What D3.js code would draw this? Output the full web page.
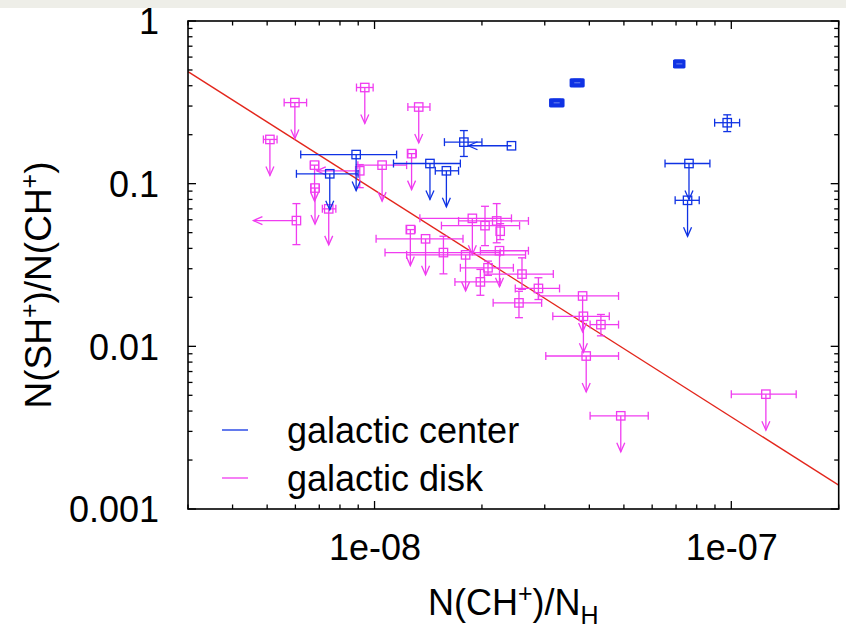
<!DOCTYPE html>
<html><head><meta charset="utf-8">
<script src="https://cdn.jsdelivr.net/npm/d3@7"></script>
<style>body{margin:0;background:#fff} text{font-family:"Liberation Sans",Arial,sans-serif;fill:#000}</style>
</head><body><svg id="c" width="846" height="629"></svg>
<script>
// ---------- data ----------
const xTickValues = [1e-8, 1e-7];
const xTickLabels = ["1e-08", "1e-07"];
const yTickValues = [1, 0.1, 0.01, 0.001];
const yTickLabels = ["1", "0.1", "0.01", "0.001"];
const seriesNames = ["galactic center", "galactic disk"];

// galactic center
const gcX    = [8.88e-9, 1.43e-8, 1.59e-8, 7.49e-9, 1.78e-8, 2.42e-8, 7.15e-8, 3.70e-8, 3.24e-8, 9.74e-8, 7.61e-8, 7.54e-8];
const gcXlo  = [6.21e-9, 1.13e-8, 1.48e-8, 6.04e-9, 1.57e-8, null,    6.90e-8, 3.54e-8, 3.10e-8, 8.98e-8, 6.52e-8, 6.96e-8];
const gcXhi  = [1.153e-8,1.74e-8, 1.72e-8, 8.99e-9, 2.00e-8, null,    7.40e-8, 3.86e-8, 3.39e-8, 1.055e-7,8.71e-8, 8.13e-8];
const gcY    = [0.151, 0.133, 0.120, 0.115, 0.180, 0.171, 0.545, 0.417, 0.314, 0.237, 0.133, 0.079];
const gcYlo  = [null,  null,  null,  null,  0.147, null,  0.522, 0.396, 0.299, 0.209, null,  null];
const gcYhi  = [null,  null,  null,  null,  0.212, null,  0.568, 0.438, 0.330, 0.265, null,  null];
const gcLim  = ["d",   "d",   "d",   "d",   "",    "l",   "",    "",    "",    "",    "d",   "d"];

// galactic disk
const gdX    = [9.39e-9, 5.98e-9, 1.33e-8, 5.09e-9, 1.27e-8, 6.79e-9, 1.05e-8, 6.81e-9, 7.44e-9, 6.04e-9, 9.09e-9,
                1.88e-8, 2.04e-8, 2.20e-8, 2.25e-8, 1.26e-8, 1.39e-8, 1.56e-8, 1.80e-8, 2.24e-8, 2.08e-8, 1.98e-8,
                2.59e-8, 2.88e-8, 2.54e-8, 3.83e-8, 3.85e-8, 4.31e-8, 3.92e-8, 4.90e-8, 1.25e-7];
const gdXlo  = [8.90e-9, 5.58e-9, 1.24e-8, 4.88e-9, 1.24e-8, 6.61e-9, 8.98e-9, 6.63e-9, 7.14e-9, null, null,
                1.34e-8, 1.54e-8, 1.72e-8, null,    1.23e-8, 1.01e-8, 1.07e-8, 1.23e-8, 1.98e-8, 1.74e-8, 1.68e-8,
                2.03e-8, 2.48e-8, 2.15e-8, 2.88e-8, 3.16e-8, 4.02e-8, 3.02e-8, 4.02e-8, 1.00e-7];
const gdXhi  = [9.91e-9, 6.45e-9, 1.43e-8, 5.33e-9, 1.31e-8, 6.97e-9, 1.23e-8, 7.00e-9, 7.79e-9, null, null,
                2.42e-8, 2.55e-8, 2.70e-8, null,    1.30e-8, 1.77e-8, 2.25e-8, 2.65e-8, 2.70e-8, 2.45e-8, 2.25e-8,
                3.17e-8, 3.30e-8, 2.94e-8, 4.83e-8, 4.55e-8, 4.83e-8, 4.83e-8, 5.85e-8, 1.52e-7];
const gdY    = [0.390, 0.315, 0.296, 0.187, 0.153, 0.130, 0.130, 0.094, 0.070, 0.0593, 0.120,
                0.0612, 0.0552, 0.0590, 0.0510, 0.0522, 0.0458, 0.0377, 0.0365, 0.0387, 0.0304, 0.0249,
                0.0278, 0.0227, 0.0185, 0.0204, 0.0153, 0.0136, 0.00872, 0.00374, 0.00508];
const gdYlo  = [null, null, null, null, null, null, null, null, null, 0.0422, 0.0945,
                null, 0.0416, 0.0433, 0.0453, null, null, 0.0279, null, null, 0.0273, 0.0206,
                0.0224, 0.0194, 0.0150, null, null, 0.0116, null, null, null];
const gdYhi  = [null, null, null, null, null, null, null, null, null, 0.0754, 0.131,
                null, 0.0726, 0.0754, 0.0568, null, null, 0.0475, null, null, 0.0334, 0.0297,
                0.0350, 0.0264, 0.0218, null, null, 0.0157, null, null, null];
const gdLim  = ["d", "d", "d", "d", "d", "d", "d", "d", "d", "l", "l",
                "d", "", "", "", "d", "d", "", "d", "d", "", "",
                "", "", "", "d", "d", "", "d", "d", "d"];

// power-law fit  y = fitAmp * (x / fitRef)^fitSlope
const fitAmp = 0.0912, fitRef = 1e-8, fitSlope = -1.394;

// ---------- drawing ----------
(function () {
const W = 846, H = 629;
const pL = 188, pR = 838.7, pT = 21, pB = 509;
const blue = "#0f32e4", magenta = "#f03cf0", red = "#e3261c";
const font = '"Liberation Sans",Arial,sans-serif';
const svg = d3.select("#c");

svg.append("rect").attr("width", W).attr("height", H).attr("fill", "#fff");
svg.append("rect").attr("width", W).attr("height", 8).attr("fill", "#eeeee8");

const x = d3.scaleLog().domain([3e-9, 2e-7]).range([pL, pR]);
const y = d3.scaleLog().domain([0.001, 1]).range([pB, pT]);

const g = svg.append("g");

function minorTicks(scale) {
  const [a, b] = scale.domain();
  const out = [];
  for (let e = Math.floor(Math.log10(a)); e <= Math.ceil(Math.log10(b)); e++)
    for (let m = 1; m < 10; m++) {
      const v = m * Math.pow(10, e);
      if (v >= a * 0.999 && v <= b * 1.001) out.push({v, major: m === 1});
    }
  return out;
}
const tk = g.append("g").attr("stroke", "#000").attr("stroke-width", 1.3);
minorTicks(x).forEach(t => {
  const L = t.major ? 8 : 4.5, px = x(t.v);
  tk.append("line").attr("x1", px).attr("x2", px).attr("y1", pB).attr("y2", pB - L);
  tk.append("line").attr("x1", px).attr("x2", px).attr("y1", pT).attr("y2", pT + L);
});
minorTicks(y).forEach(t => {
  const L = t.major ? 8 : 4.5, py = y(t.v);
  tk.append("line").attr("y1", py).attr("y2", py).attr("x1", pL).attr("x2", pL + L);
  tk.append("line").attr("y1", py).attr("y2", py).attr("x1", pR).attr("x2", pR - L);
});

const xAxis = d3.axisBottom(x).tickValues(xTickValues).tickFormat((d, i) => xTickLabels[i]).tickSize(0).tickPadding(0);
const yAxis = d3.axisLeft(y).tickValues(yTickValues).tickFormat((d, i) => yTickLabels[i]).tickSize(0).tickPadding(0);
const ax = g.append("g").attr("transform", `translate(0,${pB})`).call(xAxis);
ax.select(".domain").remove();
ax.selectAll("text").attr("y", 51).attr("dy", 0).style("font-size", "36px").style("font-family", font).attr("fill", "#000");
const ay = g.append("g").attr("transform", `translate(${pL},0)`).call(yAxis);
ay.select(".domain").remove();
ay.selectAll("text").attr("x", -29).attr("dy", "0.36em").style("font-size", "36px").style("font-family", font).attr("fill", "#000");

svg.append("clipPath").attr("id", "pc").append("rect")
  .attr("x", pL).attr("y", pT).attr("width", pR - pL).attr("height", pB - pT);
const fx = x.domain();
g.append("path").attr("clip-path", "url(#pc)")
  .attr("d", d3.line()(fx.map(v => [x(v), y(fitAmp * Math.pow(v / fitRef, fitSlope))])))
  .attr("stroke", red).attr("stroke-width", 1.4).attr("fill", "none");

function drawSeries(X, Xlo, Xhi, Y, Ylo, Yhi, Lim, color) {
  const s = g.append("g").attr("stroke", color).attr("stroke-width", 1.3).attr("fill", "none");
  const cap = 4, sq = 4.2, arrV = 36, arrH = 43, ah = 9, aw = 4;
  X.forEach((xv, i) => {
    const px = x(xv), py = y(Y[i]);
    let small = false;
    if (Xlo[i] != null) {
      const a = x(Xlo[i]), b = x(Xhi[i]);
      s.append("line").attr("x1", a).attr("x2", b).attr("y1", py).attr("y2", py);
      s.append("line").attr("x1", a).attr("x2", a).attr("y1", py - cap).attr("y2", py + cap);
      s.append("line").attr("x1", b).attr("x2", b).attr("y1", py - cap).attr("y2", py + cap);
    }
    if (Ylo[i] != null) {
      const a = y(Ylo[i]), b = y(Yhi[i]);
      s.append("line").attr("x1", px).attr("x2", px).attr("y1", a).attr("y2", b);
      s.append("line").attr("y1", a).attr("y2", a).attr("x1", px - cap).attr("x2", px + cap);
      s.append("line").attr("y1", b).attr("y2", b).attr("x1", px - cap).attr("x2", px + cap);
      // very tight error boxes render as a solid blob in the original
      if (Xlo[i] != null && Math.abs(a - b) < 9 && Math.abs(x(Xhi[i]) - x(Xlo[i])) < 14) small = true;
    }
    if (Lim[i] === "d") {
      const e = py + arrV;
      s.append("line").attr("x1", px).attr("x2", px).attr("y1", py).attr("y2", e);
      s.append("path").attr("d", `M${px - aw},${e - ah}L${px},${e}L${px + aw},${e - ah}`);
    } else if (Lim[i] === "l") {
      const e = px - arrH;
      s.append("line").attr("x1", px).attr("x2", e).attr("y1", py).attr("y2", py);
      s.append("path").attr("d", `M${e + ah},${py - aw}L${e},${py}L${e + ah},${py + aw}`);
    }
    if (small) {
      const a = x(Xlo[i]), b = x(Xhi[i]), c = y(Yhi[i]), d = y(Ylo[i]);
      s.append("rect").attr("x", a - 0.6).attr("y", Math.min(c, py - cap) - 0.6)
        .attr("width", b - a + 1.2).attr("height", Math.max(d, py + cap) - Math.min(c, py - cap) + 1.2)
        .attr("fill", color).attr("stroke", "none").attr("rx", 1.5);
      s.append("line").attr("x1", px - 3).attr("x2", px + 3).attr("y1", py).attr("y2", py)
        .attr("stroke", "#6f86ee").attr("stroke-width", 1);
    } else {
      s.append("rect").attr("x", px - sq).attr("y", py - sq).attr("width", 2 * sq).attr("height", 2 * sq);
    }
  });
}
drawSeries(gdX, gdXlo, gdXhi, gdY, gdYlo, gdYhi, gdLim, magenta);
drawSeries(gcX, gcXlo, gcXhi, gcY, gcYlo, gcYhi, gcLim, blue);

g.append("rect").attr("x", pL).attr("y", pT).attr("width", pR - pL).attr("height", pB - pT)
  .attr("fill", "none").attr("stroke", "#000").attr("stroke-width", 1.6);

const legColors = [blue, magenta];
seriesNames.forEach((n, i) => {
  const ly = 430 + i * 48;
  g.append("line").attr("x1", 222).attr("x2", 248).attr("y1", ly).attr("y2", ly)
    .attr("stroke", legColors[i]).attr("stroke-width", 1.3);
  g.append("text").attr("x", 287).attr("y", ly).attr("dy", "0.36em").style("font-size", "36px").text(n);
});

const xt = svg.append("text").attr("x", (pL + pR) / 2).attr("y", 615).attr("text-anchor", "middle").style("font-size", "36px");
xt.append("tspan").text("N(CH");
xt.append("tspan").attr("dy", -13).style("font-size", "25px").text("+");
xt.append("tspan").attr("dy", 13).text(")/N");
xt.append("tspan").attr("dy", 9).style("font-size", "25px").text("H");

const yt = svg.append("text").attr("transform", `translate(51,${(pT + pB) / 2 + 20}) rotate(-90)`)
  .attr("text-anchor", "middle").style("font-size", "37px");
yt.append("tspan").text("N(SH");
yt.append("tspan").attr("dy", -13).style("font-size", "25px").text("+");
yt.append("tspan").attr("dy", 13).text(")/N(CH");
yt.append("tspan").attr("dy", -13).style("font-size", "25px").text("+");
yt.append("tspan").attr("dy", 13).text(")");
})();
</script></body></html>
